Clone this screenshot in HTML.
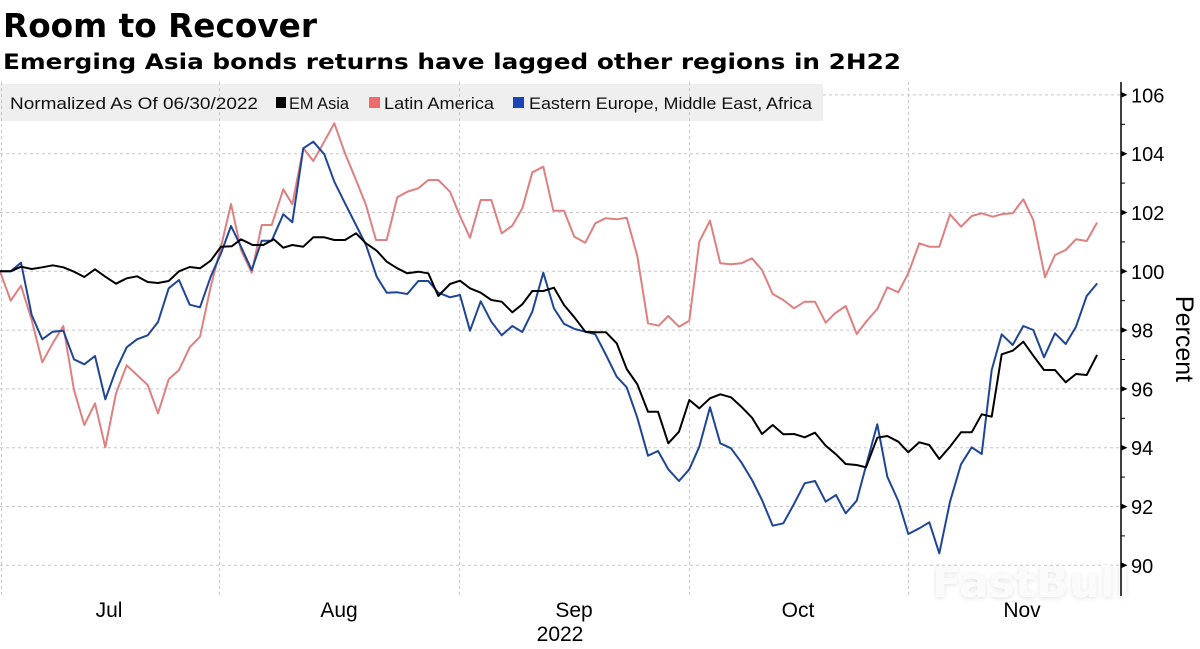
<!DOCTYPE html>
<html>
<head>
<meta charset="utf-8">
<style>
  html,body{margin:0;padding:0;background:#fff;}
  svg{display:block;}
</style>
</head>
<body>
<svg width="1200" height="649" viewBox="0 0 1200 649" xmlns="http://www.w3.org/2000/svg">
  <defs>
    <filter id="wm" x="-10%" y="-30%" width="120%" height="160%">
      <feGaussianBlur in="SourceAlpha" stdDeviation="2.5" result="b"/>
      <feOffset dx="0" dy="1" result="o"/>
      <feComponentTransfer in="o" result="s"><feFuncA type="linear" slope="0.12"/></feComponentTransfer>
      <feMerge><feMergeNode in="s"/><feMergeNode in="SourceGraphic"/></feMerge>
    </filter>
  </defs>
  <rect x="0" y="0" width="1200" height="649" fill="#ffffff"/>

  <!-- Title -->
  <text x="3" y="37" font-family="'DejaVu Sans', 'Liberation Sans', sans-serif" font-weight="bold" font-size="33" fill="#000" textLength="314" lengthAdjust="spacingAndGlyphs">Room to Recover</text>
  <text x="3" y="69" font-family="'DejaVu Sans', 'Liberation Sans', sans-serif" font-weight="bold" font-size="21" fill="#000" textLength="898" lengthAdjust="spacingAndGlyphs">Emerging Asia bonds returns have lagged other regions in 2H22</text>

  <!-- Legend background -->
  <rect x="0" y="84" width="823" height="37" fill="#efefef"/>

  <!-- Horizontal gridlines -->
  <g stroke="#c6c6c6" stroke-width="1" stroke-dasharray="3,3" fill="none">
    <line x1="823" y1="94.9" x2="1121" y2="94.9"/>
    <line x1="0" y1="153.7" x2="1121" y2="153.7"/>
    <line x1="0" y1="212.5" x2="1121" y2="212.5"/>
    <line x1="0" y1="271.3" x2="1121" y2="271.3"/>
    <line x1="0" y1="330.1" x2="1121" y2="330.1"/>
    <line x1="0" y1="388.9" x2="1121" y2="388.9"/>
    <line x1="0" y1="447.7" x2="1121" y2="447.7"/>
    <line x1="0" y1="506.5" x2="1121" y2="506.5"/>
    <line x1="0" y1="565.3" x2="1121" y2="565.3"/>
  </g>
  <!-- Vertical gridlines -->
  <g stroke="#c6c6c6" stroke-width="1" stroke-dasharray="3,3" fill="none">
    <line x1="1.5" y1="82" x2="1.5" y2="597"/>
    <line x1="219.5" y1="82" x2="219.5" y2="597"/>
    <line x1="459.5" y1="82" x2="459.5" y2="597"/>
    <line x1="689.5" y1="82" x2="689.5" y2="597"/>
    <line x1="908.5" y1="82" x2="908.5" y2="597"/>
  </g>

  <!-- Legend content -->
  <g font-family="'Liberation Sans', sans-serif" font-size="17" fill="#111">
    <text x="10" y="109" textLength="248" lengthAdjust="spacingAndGlyphs">Normalized As Of 06/30/2022</text>
    <rect x="276" y="97" width="10" height="11" fill="#000"/>
    <text x="289" y="109" textLength="60" lengthAdjust="spacingAndGlyphs">EM Asia</text>
    <rect x="369" y="97" width="11" height="11" fill="#ef6a6a"/>
    <text x="384" y="109" textLength="110" lengthAdjust="spacingAndGlyphs">Latin America</text>
    <rect x="513" y="97" width="11" height="11" fill="#1a44b8"/>
    <text x="529" y="109" textLength="283" lengthAdjust="spacingAndGlyphs">Eastern Europe, Middle East, Africa</text>
  </g>

  <!-- Watermark -->
  <text x="932" y="597" font-family="'DejaVu Sans', 'Liberation Sans', sans-serif" font-weight="bold" font-size="42" fill="#fbfbfb" textLength="198" lengthAdjust="spacingAndGlyphs" filter="url(#wm)">FastBull</text>

  <!-- Series -->
  <g fill="none" stroke-width="2" stroke-linejoin="round" stroke-linecap="round">
    <polyline stroke="#de8080" points="0,271.3 10.7,300.7 21,285.7 31.7,320 42.3,362.3 52.7,343.3 63.3,326 74,390 84.3,425 95,403.3 105.3,447.3 116,393.3 126.7,365.3 137,375 147.7,385 158,413.3 168.7,379.3 179,370 189.7,347.3 200,336.7 210.7,286.7 221,246.7 231,204 241,250 251.7,272.7 261.7,225 271.7,225 283.3,189.3 292.3,204.3 303.3,148.3 313.3,161 323.3,143.3 334.3,123.3 345,153.3 356,180 366,205 376,240 386.7,240 397.3,197.3 407.3,191.7 418.3,188.3 428.3,180 438.3,180 450,191.7 460,216 470,237.7 480.7,200 491.3,200 501.7,233.3 512.3,225.7 522.3,208.3 532.3,172.3 543.3,166.7 553.3,210.7 564,210.7 574.3,236.7 585.3,242.7 595.3,223.3 605.3,218.3 616.7,219.3 626.7,217.7 637.3,256 648,323.3 658.7,325.7 668.3,316 679,326.7 689.3,320.7 699.3,241.7 710,220.7 720.3,263.3 731,264.3 741.3,263.3 752,258.3 762,270 772.7,294 783.3,300 794,308.3 804.7,301.7 815,301.7 825.7,322.7 835,313.3 845.7,306 856.7,334 866.7,321 877.3,309 887.3,287.3 898.3,292.3 908.3,273.3 919.3,243.3 929.3,246.7 939.3,246.7 950,214.3 961,226.7 971.7,216 981.7,213.3 992.7,216.7 1002.7,214 1012.7,213.3 1023.3,199.3 1033.3,220 1045,277.3 1055,255 1065.7,250 1076,239.3 1086.7,241 1096.7,223.3"/>
    <polyline stroke="#1f4595" points="0,271.3 10.7,271.3 21,262.7 31.7,315 42.3,339.3 52.7,331.7 63.3,330.7 74,359.3 84.3,364.3 95,356 105.3,399.3 116,370 126.7,347.3 137,339.3 147.7,335.3 158,322 168.7,288.3 179,280 189.7,304.7 200,307.3 210.7,276.7 221,253.3 231,226 241,246.7 251.7,270 261.7,240.7 271.7,240.7 283.3,214.3 292.3,222.3 303.3,148.3 313.3,141.7 324.3,154.3 334.3,181.7 345,203.3 356,225 366,245 376.7,276.7 386.7,292.7 397.3,292.3 407.3,294 418.3,281 428.3,281 438.3,292.7 450,297.3 460,295 470,330.7 480.7,301.3 491.3,321.7 501.7,335.3 512.3,326 522.3,332 532.3,311.7 543.3,272.7 554,308.5 564,323.8 574.7,329 585.3,331.7 595.3,334.3 606,355 616.7,376.7 626.7,387.3 637.3,417.7 648,455.7 658,451 668.3,469.3 679,481 689.3,469.3 699.3,446.7 710,407.3 720.3,443.3 731,448.3 741.3,462.3 752,480 762,500 772.7,525.7 783.3,523.3 794,504 804.7,483.3 815,481 825.7,501.7 836,495 845.7,513.3 856.7,500.7 866.7,463.3 877.3,424.3 887.3,476.7 898.3,501 908.3,534 919.3,528.3 929.3,522.3 939.3,553.3 950,501.7 961,464.3 971.7,447.3 981.7,454 991.7,370 1001.7,334.3 1012.7,345 1023.3,326 1033.3,330 1044,357.3 1055,333.3 1065.7,344 1076,326.7 1086.7,296 1096.7,284"/>
    <polyline stroke="#000000" points="0,271.3 10.7,271.3 21,266.7 31.7,269 42.3,267.3 52.7,265.3 63.3,267.3 74,271.7 84.3,277 95,269.3 105.3,276.7 116,283.7 126.7,278.3 137,276.3 147.7,282 158,283 168.7,281 179,271.3 189.7,267 200,268.3 210.7,260.7 221,246.7 231.7,246.3 241,239.3 252.7,245 263.3,245 273.7,239.3 283.3,247.7 292.3,245 303.3,246.7 313.3,237.3 324.3,237.3 334.3,240 345,240 356,233.3 366,243.3 376.7,250.7 386.7,261.7 397.3,268.3 407.3,273.3 418.3,271.7 428.3,273.3 438.3,296 450,284 460,280.7 470,288.3 480.7,292.7 491.3,300 501.7,301.7 512.3,312.3 522.3,304.3 532.3,291 543.3,291 554,287.7 564,305 574.7,317.7 585.3,331.7 595.3,332.3 606,332.3 616.7,343.3 626.7,369 637.3,384.3 648,411.7 658,411.7 668.3,443.3 679,431.7 689.3,400 699.3,408.3 710,398.3 720.3,394.3 731,397.3 741.3,406.7 752,417.7 762,434 772.7,425 783.3,434.3 794,434 804.7,437.3 815,432.7 825.7,445.7 836,454.3 845.7,464 856.7,465 866,467.3 877.3,437.7 887.3,436 898.3,441.7 908.3,452.3 919.3,442.3 929.3,445 939.3,459 950,446.7 961,432.3 971.7,432.3 981.7,414.3 991.7,416.7 1001.7,354.3 1012.7,350.7 1023.3,341.7 1033.3,355.7 1044,370 1055,370 1065.7,382.3 1076,374 1086.7,375 1096.7,355.7"/>
  </g>

  <!-- Right axis -->
  <line x1="1121" y1="82" x2="1121" y2="596" stroke="#000" stroke-width="1.5"/>
  <g fill="#000">
    <polygon points="1121,91.9 1127.5,94.9 1121,97.9"/>
    <polygon points="1121,150.7 1127.5,153.7 1121,156.7"/>
    <polygon points="1121,209.5 1127.5,212.5 1121,215.5"/>
    <polygon points="1121,268.3 1127.5,271.3 1121,274.3"/>
    <polygon points="1121,327.1 1127.5,330.1 1121,333.1"/>
    <polygon points="1121,385.9 1127.5,388.9 1121,391.9"/>
    <polygon points="1121,444.7 1127.5,447.7 1121,450.7"/>
    <polygon points="1121,503.5 1127.5,506.5 1121,509.5"/>
    <polygon points="1121,562.3 1127.5,565.3 1121,568.3"/>
  </g>
  <g stroke="#000" stroke-width="1">
    <line x1="1121" y1="124.3" x2="1125" y2="124.3"/>
    <line x1="1121" y1="183.1" x2="1125" y2="183.1"/>
    <line x1="1121" y1="241.9" x2="1125" y2="241.9"/>
    <line x1="1121" y1="300.7" x2="1125" y2="300.7"/>
    <line x1="1121" y1="359.5" x2="1125" y2="359.5"/>
    <line x1="1121" y1="418.3" x2="1125" y2="418.3"/>
    <line x1="1121" y1="477.1" x2="1125" y2="477.1"/>
    <line x1="1121" y1="535.9" x2="1125" y2="535.9"/>
  </g>
  <g font-family="'Liberation Sans', sans-serif" font-size="20" fill="#000">
    <text x="1131" y="102.4">106</text>
    <text x="1131" y="161.2">104</text>
    <text x="1131" y="220">102</text>
    <text x="1131" y="278.8">100</text>
    <text x="1131" y="337.6">98</text>
    <text x="1131" y="396.4">96</text>
    <text x="1131" y="455.2">94</text>
    <text x="1131" y="514">92</text>
    <text x="1131" y="572.8">90</text>
  </g>
  <text transform="translate(1176,339) rotate(90)" text-anchor="middle" font-family="'Liberation Sans', sans-serif" font-size="25" fill="#000">Percent</text>

  <!-- X axis labels -->
  <g font-family="'Liberation Sans', sans-serif" font-size="21" fill="#000" text-anchor="middle">
    <text x="109" y="617">Jul</text>
    <text x="339" y="617">Aug</text>
    <text x="574" y="617">Sep</text>
    <text x="798" y="617">Oct</text>
    <text x="1022" y="617">Nov</text>
    <text x="560" y="641">2022</text>
  </g>
</svg>
</body>
</html>
